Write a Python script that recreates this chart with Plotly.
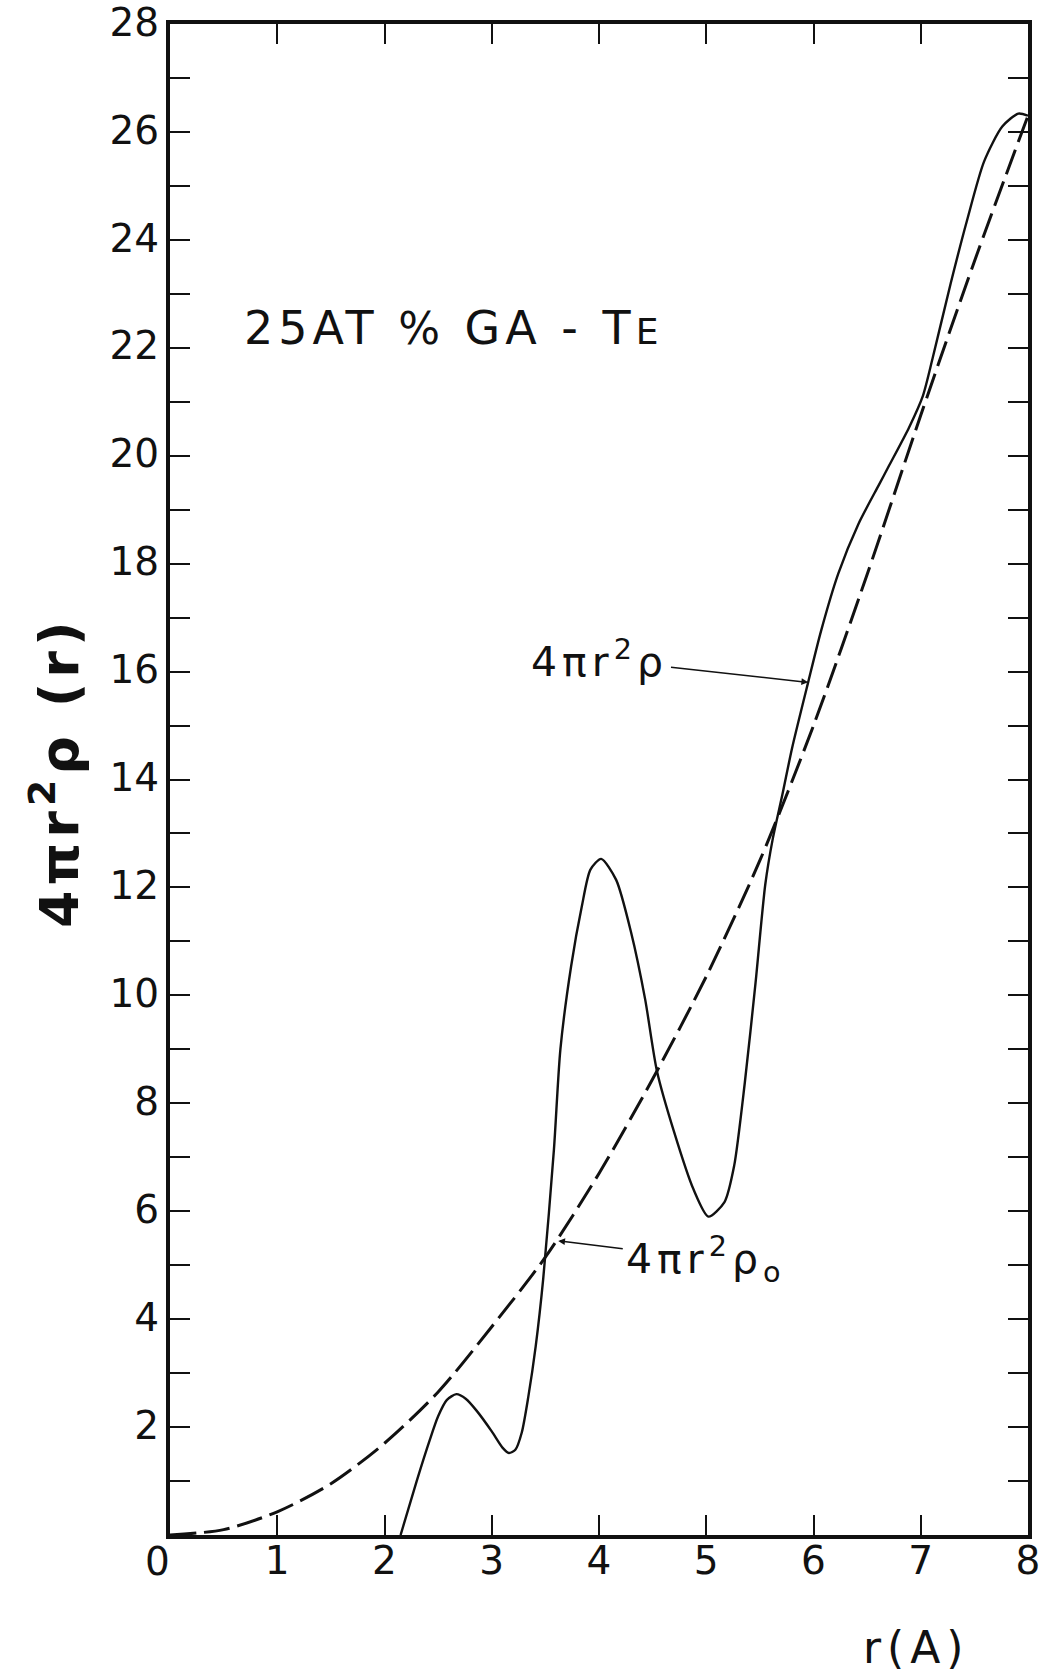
import plotly.graph_objects as go

# Radial distribution function 4*pi*r^2*rho(r) for liquid 25 at% Ga-Te
r_rdf = [2.15, 2.30, 2.42, 2.50, 2.58, 2.67, 2.76, 2.86, 3.00, 3.10,
         3.16, 3.22, 3.28, 3.34, 3.41, 3.48, 3.58, 3.64, 3.74, 3.84,
         3.92, 4.02, 4.16, 4.30, 4.43, 4.54, 4.70, 4.88, 5.02, 5.17,
         5.26, 5.36, 5.46, 5.55, 5.62, 5.71, 5.80, 5.95, 6.07, 6.23,
         6.42, 6.61, 6.70, 6.89, 7.02, 7.11, 7.28, 7.43, 7.59, 7.76,
         7.91, 8.00]
rdf = [0.0, 1.0, 1.75, 2.2, 2.5, 2.61, 2.52, 2.3, 1.92, 1.62,
       1.52, 1.58, 1.9, 2.55, 3.5, 4.75, 7.15, 9.0, 10.54, 11.65,
       12.33, 12.53, 12.14, 11.16, 9.93, 8.6, 7.47, 6.41, 5.9, 6.17,
       6.84, 8.39, 10.24, 12.05, 12.9, 13.72, 14.58, 15.8, 16.75, 17.81,
       18.74, 19.46, 19.8, 20.52, 21.11, 21.8, 23.2, 24.35, 25.45, 26.1,
       26.34, 26.3]

# Average-density curve 4*pi*r^2*rho_0
r_avg = [0, 0.5, 1.0, 1.5, 2.0, 2.5, 3.0, 3.5, 4.0, 4.5, 5.0, 5.5, 6.0,
         6.5, 7.0, 7.5, 8.0]
avg_density = [0.0, 0.1, 0.43, 0.95, 1.7, 2.65, 3.86, 5.15, 6.7, 8.45,
               10.35, 12.5, 15.0, 17.8, 20.75, 23.6, 26.3]

x_tick_vals = [1, 2, 3, 4, 5, 6, 7, 8]
x_tick_text = ["1", "2", "3", "4", "5", "6", "7", "8"]
y_tick_vals = [2, 4, 6, 8, 10, 12, 14, 16, 18, 20, 22, 24, 26, 28]
y_tick_text = ["2", "4", "6", "8", "10", "12", "14", "16", "18", "20",
               "22", "24", "26", "28"]

W, H = 1048, 1673
L, R, T, B = 170, 20, 24, 138
PW, PH = W - L - R, H - T - B

FONT = "DejaVu Sans"
INK = "#111111"


def paper(px, py):
    """Pixel position on the page -> paper coordinates."""
    return (px - L) / PW, (T + PH - py) / PH


fig = go.Figure()

fig.add_trace(go.Scatter(
    x=r_avg, y=avg_density, mode="lines",
    line=dict(color=INK, width=3, dash="26px,8px", shape="spline", smoothing=0.8),
    hoverinfo="skip", showlegend=False,
))
fig.add_trace(go.Scatter(
    x=r_rdf, y=rdf, mode="lines",
    line=dict(color=INK, width=2.4, shape="spline", smoothing=0.7),
    hoverinfo="skip", showlegend=False,
))

axis_common = dict(
    showline=True, linewidth=4, linecolor=INK, mirror="ticks",
    ticks="inside", ticklen=20, tickwidth=2, tickcolor=INK,
    minor=dict(ticks="inside", ticklen=20, tickwidth=2, tickcolor=INK,
               dtick=1, tick0=0, showgrid=False),
    showgrid=False, zeroline=False, ticklabeloverflow="allow",
    automargin=False,
    tickfont=dict(family=FONT, size=39, color=INK),
)

fig.update_xaxes(range=[0, 8], tickvals=x_tick_vals, ticktext=x_tick_text,
                 ticklabelstandoff=-12, **axis_common)
fig.update_yaxes(range=[0, 28], tickvals=y_tick_vals, ticktext=y_tick_text,
                 ticklabelstandoff=-1, ticklabelshift=-2, **axis_common)

annotations = []

# origin label, set off to the left of the corner
x0, y0 = paper(157, 1562)
annotations.append(dict(xref="paper", yref="paper", x=x0, y=y0, text="0",
                        showarrow=False, xanchor="center", yanchor="middle",
                        font=dict(family=FONT, size=39, color=INK)))

# x-axis title
xt, yt = paper(916, 1647)
annotations.append(dict(xref="paper", yref="paper", x=xt, y=yt,
                        text="<span style='letter-spacing:6px'>r(A)</span>",
                        showarrow=False, xanchor="center", yanchor="middle",
                        font=dict(family=FONT, size=44, color=INK)))

# y-axis title
xt, yt = paper(55, 772)
annotations.append(dict(xref="paper", yref="paper", x=xt, y=yt,
                        text="<span style='letter-spacing:5px'>4πr<sup>2</sup>ρ (r)</span>",
                        textangle=-90, showarrow=False,
                        xanchor="center", yanchor="middle",
                        font=dict(family=FONT, size=54, color=INK, weight="bold")))

# composition label
xt, yt = paper(453, 328)
annotations.append(dict(
    xref="paper", yref="paper", x=xt, y=yt,
    text=("<span style='letter-spacing:5px'>25AT <span style='font-size:44px'>%</span>"
          " GA - T<span style='font-size:36px'>E</span></span>"),
    showarrow=False, xanchor="center", yanchor="middle",
    font=dict(family=FONT, size=46, color=INK)))

# curve labels with leader arrows
annotations.append(dict(
    x=5.95, y=15.8, xref="x", yref="y",
    ax=4.0, ay=16.23, axref="x", ayref="y",
    text="<span style='letter-spacing:5px'>4πr<sup>2</sup>ρ</span>",
    showarrow=True, arrowhead=2, arrowsize=0.9, arrowwidth=1.5,
    arrowcolor=INK, standoff=0, startstandoff=2,
    font=dict(family=FONT, size=41, color=INK)))
annotations.append(dict(
    x=3.62, y=5.45, xref="x", yref="y",
    ax=5.0, ay=5.12, axref="x", ayref="y",
    text="<span style='letter-spacing:5px'>4πr<sup>2</sup>ρ<sub>o</sub></span>",
    showarrow=True, arrowhead=2, arrowsize=0.9, arrowwidth=1.5,
    arrowcolor=INK, standoff=0, startstandoff=2,
    font=dict(family=FONT, size=41, color=INK)))

fig.update_layout(
    width=W, height=H,
    margin=dict(l=L, r=R, t=T, b=B, autoexpand=False),
    paper_bgcolor="white", plot_bgcolor="white",
    annotations=annotations,
    showlegend=False,
)

fig.write_html("out.html", config={"displayModeBar": False})
